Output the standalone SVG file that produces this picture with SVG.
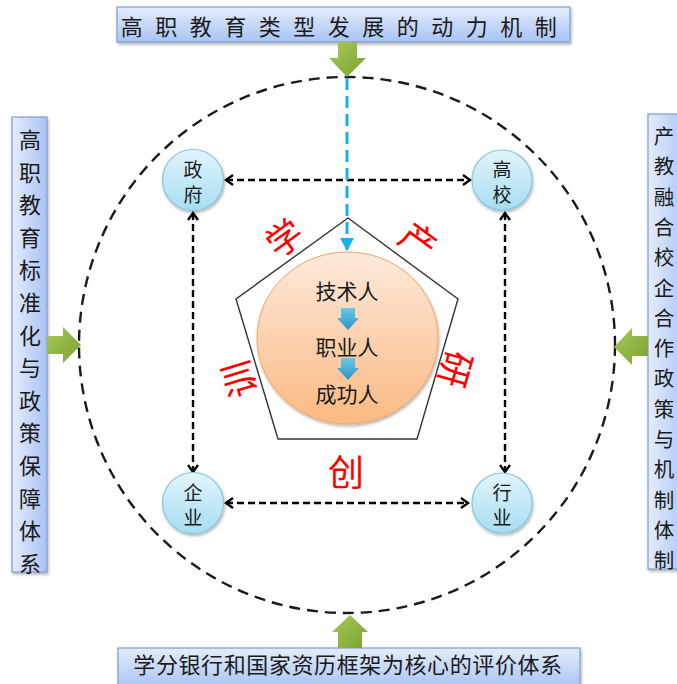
<svg xmlns="http://www.w3.org/2000/svg" width="677" height="684" viewBox="0 0 677 684">
<defs>
<linearGradient id="boxg" x1="0" y1="0" x2="0" y2="1"><stop offset="0" stop-color="#e4edfc"/><stop offset="1" stop-color="#a9c3f3"/></linearGradient>
<linearGradient id="boxgv" x1="0" y1="0" x2="1" y2="0"><stop offset="0" stop-color="#e4edfc"/><stop offset="1" stop-color="#a9c3f3"/></linearGradient>
<linearGradient id="nodeg" x1="0" y1="0" x2="0" y2="1"><stop offset="0" stop-color="#e2f5fc"/><stop offset="1" stop-color="#a6ddf1"/></linearGradient>
<linearGradient id="greeng" x1="0" y1="0" x2="1" y2="1"><stop offset="0" stop-color="#a8c85a"/><stop offset="1" stop-color="#7aa32e"/></linearGradient>
<linearGradient id="orangeg" x1="0" y1="0" x2="0" y2="1"><stop offset="0" stop-color="#fdeadc"/><stop offset="1" stop-color="#fbb982"/></linearGradient>
<linearGradient id="blueg" x1="0" y1="0" x2="0" y2="1"><stop offset="0" stop-color="#6cc8e6"/><stop offset="1" stop-color="#2a93c4"/></linearGradient>
<filter id="sh" x="-10%" y="-10%" width="130%" height="130%"><feDropShadow dx="1" dy="2" stdDeviation="1.5" flood-color="#000" flood-opacity="0.3"/></filter>
<marker id="chev" markerWidth="12" markerHeight="12" refX="9" refY="6" orient="auto-start-reverse" markerUnits="userSpaceOnUse"><path d="M2,1 L9,6 L2,11" fill="none" stroke="#000" stroke-width="2.4"/></marker>
<marker id="btri" markerWidth="14" markerHeight="14" refX="12" refY="7" orient="auto" markerUnits="userSpaceOnUse"><path d="M0,0 L13,7 L0,14 Z" fill="#1ab0e8"/></marker>
<style>
.box{fill:url(#boxg);stroke:#7d9bd3;stroke-width:1.2;filter:url(#sh)}
.boxv{fill:url(#boxgv);stroke:#7d9bd3;stroke-width:1.2;filter:url(#sh)}
.t{font-family:"Noto Sans CJK SC","Noto Sans CJK JP",sans-serif;fill:#1a1a1a;text-anchor:middle;dominant-baseline:central}
.node{fill:url(#nodeg);stroke:#86c6de;stroke-width:1.2;filter:url(#sh)}
.conn{stroke:#000;stroke-width:2.4;stroke-dasharray:7 4;fill:none}
.red{font-family:"Noto Sans CJK SC",sans-serif;fill:#ff0000;font-size:36px;text-anchor:middle;dominant-baseline:central}
.green{fill:url(#greeng)}
</style>
</defs>
<rect width="677" height="684" fill="#fff"/>

<circle cx="347" cy="345" r="268" fill="none" stroke="#1a1a1a" stroke-width="2.4" stroke-dasharray="11 7"/>

<g id="top-box">
<rect class="box" x="117" y="7" width="453" height="35"/>
<text class="t" x="345" y="25" font-size="22" letter-spacing="12.5">高职教育类型发展的动力机制</text>
</g>
<g id="bottom-box">
<rect class="box" x="118" y="648" width="462" height="40"/>
<text class="t" x="348" y="663" font-size="22" letter-spacing="0.6">学分银行和国家资历框架为核心的评价体系</text>
</g>
<g id="left-box">
<rect class="boxv" x="12" y="117" width="35" height="455"/>
<g class="t" font-size="22">
<text x="30" y="138">高</text><text x="30" y="171">职</text><text x="30" y="203">教</text><text x="30" y="236">育</text><text x="30" y="268">标</text><text x="30" y="301">准</text><text x="30" y="334">化</text><text x="30" y="366">与</text><text x="30" y="399">政</text><text x="30" y="431">策</text><text x="30" y="464">保</text><text x="30" y="497">障</text><text x="30" y="529">体</text><text x="30" y="562">系</text>
</g>
</g>
<g id="right-box">
<rect class="boxv" x="648" y="114" width="40" height="455"/>
<g class="t" font-size="20.5">
<text x="664" y="135">产</text><text x="664" y="165.3">教</text><text x="664" y="195.6">融</text><text x="664" y="225.9">合</text><text x="664" y="256.2">校</text><text x="664" y="286.5">企</text><text x="664" y="316.8">合</text><text x="664" y="347.1">作</text><text x="664" y="377.4">政</text><text x="664" y="407.7">策</text><text x="664" y="438">与</text><text x="664" y="468.3">机</text><text x="664" y="498.6">制</text><text x="664" y="528.9">体</text><text x="664" y="559.2">制</text>
</g>
</g>

<g id="arrows-green">
<path class="green" d="M338,42 H357 V58 H366 L347,77 L329,58 H338 Z"/>
<path class="green" d="M338,648 H362 V632 H368 L350,615 L332,632 H338 Z"/>
<path class="green" d="M47,336 H63 V327 L81,345 L63,363 V354 H47 Z"/>
<path class="green" d="M648,336 H632 V328 L614,347 L632,365 V356 H648 Z"/>
</g>

<g id="pentagon">
<polygon points="348,218 458,299 417,439 278,439 236,299" fill="#fff" stroke="#333" stroke-width="1.4"/>
</g>

<g id="center">
<ellipse cx="347.5" cy="338" rx="90.5" ry="86" fill="url(#orangeg)" stroke="#f2a566" stroke-width="1" filter="url(#sh)"/>
<text class="t" x="347" y="290" font-size="21">技术人</text>
<path d="M341,308 H355 V318 H359 L348,330 L337,318 H341 Z" fill="url(#blueg)"/>
<text class="t" x="347" y="346" font-size="21">职业人</text>
<path d="M341,358 H355 V368 H359 L348,380 L337,368 H341 Z" fill="url(#blueg)"/>
<text class="t" x="347" y="393" font-size="21">成功人</text>
</g>

<g id="red-labels">
<text class="red" transform="translate(283,236) rotate(-36)">学</text>
<text class="red" transform="translate(420,239) rotate(36)">产</text>
<text class="red" transform="translate(458,370) rotate(106)">研</text>
<text class="red" transform="translate(237,380) rotate(-107)">训</text>
<text class="red" x="346" y="470">创</text>
</g>

<g id="connectors">
<line class="conn" x1="226" y1="180" x2="470" y2="180" marker-start="url(#chev)" marker-end="url(#chev)"/>
<line class="conn" x1="226" y1="503" x2="468" y2="503" marker-start="url(#chev)" marker-end="url(#chev)"/>
<line class="conn" x1="193" y1="213" x2="193" y2="472" marker-start="url(#chev)" marker-end="url(#chev)"/>
<line class="conn" x1="505" y1="213" x2="505" y2="472" marker-start="url(#chev)" marker-end="url(#chev)"/>
<line x1="347" y1="78" x2="347" y2="250" stroke="#1ab0e8" stroke-width="3" stroke-dasharray="12 6" marker-end="url(#btri)"/>
</g>

<g id="node-zhengfu">
<circle class="node" cx="193" cy="180" r="30.5"/>
<text class="t" x="193" y="168" font-size="19">政</text><text class="t" x="193" y="193" font-size="19">府</text>
</g>
<g id="node-gaoxiao">
<circle class="node" cx="502" cy="180" r="30"/>
<text class="t" x="502" y="168" font-size="19">高</text><text class="t" x="502" y="193" font-size="19">校</text>
</g>
<g id="node-qiye">
<circle class="node" cx="193" cy="503" r="30.5"/>
<text class="t" x="193" y="491" font-size="19">企</text><text class="t" x="193" y="516" font-size="19">业</text>
</g>
<g id="node-hangye">
<circle class="node" cx="502" cy="503" r="30"/>
<text class="t" x="502" y="491" font-size="19">行</text><text class="t" x="502" y="516" font-size="19">业</text>
</g>
</svg>
